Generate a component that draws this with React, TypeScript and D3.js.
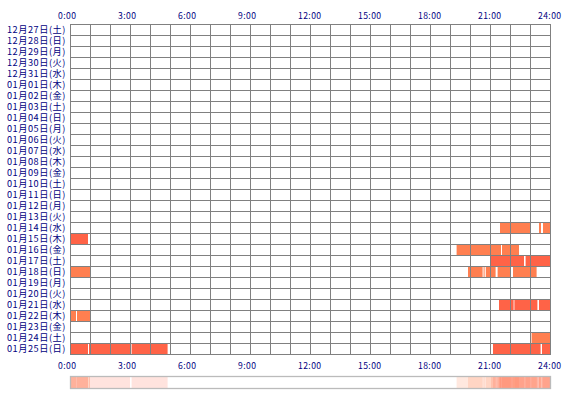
import React from "react";
import * as d3 from "d3";

const days: string[] = [
  "12月27日(土)", "12月28日(日)", "12月29日(月)", "12月30日(火)", "12月31日(水)",
  "01月01日(木)", "01月02日(金)", "01月03日(土)", "01月04日(日)", "01月05日(月)",
  "01月06日(火)", "01月07日(水)", "01月08日(木)", "01月09日(金)", "01月10日(土)",
  "01月11日(日)", "01月12日(月)", "01月13日(火)", "01月14日(水)", "01月15日(木)",
  "01月16日(金)", "01月17日(土)", "01月18日(日)", "01月19日(月)", "01月20日(火)",
  "01月21日(水)", "01月22日(木)", "01月23日(金)", "01月24日(土)", "01月25日(日)",
];

const hourTicks: number[] = [0, 3, 6, 9, 12, 15, 18, 21, 24];
const hourTickLabels: string[] = ["0:00", "3:00", "6:00", "9:00", "12:00", "15:00", "18:00", "21:00", "24:00"];

// [day, start hour, end hour]
const sessions: [string, number, number][] = [
  ["01月14日(水)", 21.5, 23.0],
  ["01月14日(水)", 23.45, 23.55],
  ["01月14日(水)", 23.65, 24],
  ["01月15日(木)", 0, 0.9],
  ["01月16日(金)", 19.33, 21.55],
  ["01月16日(金)", 21.6, 22.45],
  ["01月17日(土)", 21.05, 22.7],
  ["01月17日(土)", 22.78, 24],
  ["01月18日(日)", 0, 1.0],
  ["01月18日(日)", 19.9, 20.63],
  ["01月18日(日)", 20.68, 20.73],
  ["01月18日(日)", 20.79, 21.28],
  ["01月18日(日)", 21.38, 22.03],
  ["01月18日(日)", 22.15, 23.33],
  ["01月21日(水)", 21.45, 22.18],
  ["01月21日(水)", 22.22, 23.37],
  ["01月21日(水)", 23.45, 24],
  ["01月22日(木)", 0, 0.3],
  ["01月22日(木)", 0.35, 1.0],
  ["01月24日(土)", 23.08, 24],
  ["01月25日(日)", 0, 0.9],
  ["01月25日(日)", 0.95, 3.0],
  ["01月25日(日)", 3.08, 4.88],
  ["01月25日(日)", 21.15, 23.53],
  ["01月25日(日)", 23.6, 24],
];

const rowColors: string[] = ["#FF7F50", "#FF6347"];

const W = 570;
const H = 400;
const FONT = "'Noto Sans CJK JP', 'DejaVu Sans', sans-serif";
const TEXT = "#000080";
const GRID = "#808080";

export default function App() {
  const x = d3.scaleLinear().domain([0, 24]).range([70, 550]);
  const y = d3.scaleBand<string>().domain(days).range([24, 354]).padding(0);
  const hours = d3.range(0, 25);
  const rowColor = (d: string) => rowColors[days.indexOf(d) % 2];

  const stripTop = 376;
  const stripH = 12;

  return (
    <svg
      width={W}
      height={H}
      style={{ position: "absolute", left: 0, top: 0, background: "#fff" }}
      fontFamily={FONT}
    >
      <rect x={0} y={0} width={W} height={H} fill="#fff" />
      {/* bars */}
      {sessions.map(([d, s, e], i) => (
        <rect
          key={"b" + i}
          x={x(s)}
          y={(y(d) as number) + 1}
          width={x(e) - x(s)}
          height={y.bandwidth() - 1}
          fill={rowColor(d)}
        />
      ))}
      {/* grid */}
      <g stroke={GRID} strokeWidth={1} shapeRendering="crispEdges">
        {hours.map((h) => (
          <line key={"v" + h} x1={x(h) + 0.5} x2={x(h) + 0.5} y1={24} y2={355} />
        ))}
        {days.concat(["__end"]).map((d, i) => {
          const yy = 24 + i * y.bandwidth() + 0.5;
          return <line key={"h" + i} x1={70} x2={551} y1={yy} y2={yy} />;
        })}
      </g>
      {/* day labels */}
      {days.map((d) => (
        <text
          key={"l" + d}
          x={66}
          y={(y(d) as number) + y.bandwidth() / 2 + 3.7}
          textAnchor="end"
          fontSize={9.2}
          letterSpacing={0.55}
          fill={TEXT}
        >
          {d}
        </text>
      ))}
      {/* hour labels top and bottom */}
      {hourTicks.map((h, i) => (
        <g key={"t" + h}>
          <text x={x(h) - 12} y={18.5} fontSize={8.6} letterSpacing={0.4} fill={TEXT}>
            {hourTickLabels[i]}
          </text>
          <text x={x(h) - 12} y={368.5} fontSize={8.6} letterSpacing={0.4} fill={TEXT}>
            {hourTickLabels[i]}
          </text>
        </g>
      ))}
      {/* summary strip */}
      <rect x={70} y={stripTop} width={481} height={stripH + 1} fill="#fff" />
      {sessions.map(([d, s, e], i) => (
        <rect
          key={"s" + i}
          x={x(s)}
          y={stripTop + 1}
          width={x(e) - x(s)}
          height={stripH - 1}
          fill={rowColor(d)}
          fillOpacity={0.18}
        />
      ))}
      <rect
        x={70.5}
        y={stripTop + 0.5}
        width={480}
        height={stripH}
        fill="none"
        stroke="#bbbbbb"
        strokeWidth={1.3}
      />
    </svg>
  );
}
